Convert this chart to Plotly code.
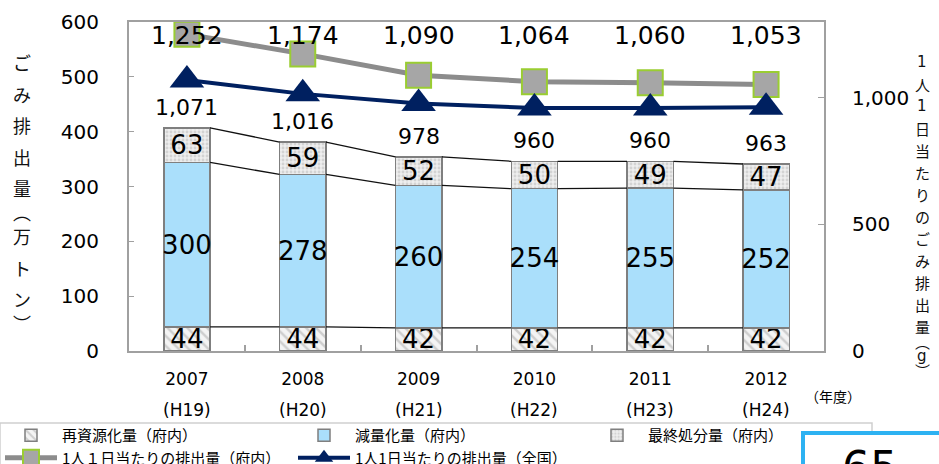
import plotly.graph_objects as go

# ---------------- data ----------------
years = ["2007", "2008", "2009", "2010", "2011", "2012"]
eras = ["(H19)", "(H20)", "(H21)", "(H22)", "(H23)", "(H24)"]
recycled = [44, 44, 42, 42, 42, 42]          # 再資源化量（府内）
reduced = [300, 278, 260, 254, 255, 252]     # 減量化量（府内）
disposed = [63, 59, 52, 50, 49, 47]          # 最終処分量（府内）
per_capita_osaka = [1252, 1174, 1090, 1064, 1060, 1053]   # 1人１日当たりの排出量（府内）
per_capita_japan = [1071, 1016, 978, 960, 960, 963]       # 1人1日当たりの排出量（全国）

name_recycled = "再資源化量（府内）"
name_reduced = "減量化量（府内）"
name_disposed = "最終処分量（府内）"
name_osaka = "1人１日当たりの排出量（府内）"
name_japan = "1人1日当たりの排出量（全国）"
left_title = "ごみ排出量︵万トン︶"
right_title = "1人1日当たりのごみ排出量︵g︶"
year_unit = "（年度）"
page_no = "65"

# ---------------- layout constants ----------------
W, H = 939, 464
ML, MR, MT, MB = 129, 115, 22, 113
PW, PH = W - ML - MR, H - MT - MB
NUM = "DejaVu Sans"
JP = "Noto Sans CJK JP"
BAR_W = 0.4
AX = "#A0A0A0"


def px_x(p):
    return (p - ML) / PW


def px_y(p):
    return (H - MB - p) / PH


xs = list(range(len(years)))
level1 = recycled
level2 = [a + b for a, b in zip(recycled, reduced)]
totals = [a + b + c for a, b, c in zip(recycled, reduced, disposed)]

fig = go.Figure()

bar_common = dict(x=xs, width=BAR_W, textposition="inside", insidetextanchor="middle",
                  textangle=0, constraintext="none", cliponaxis=False,
                  textfont=dict(family=NUM, size=26, color="#000"),
                  texttemplate="%{y}", hoverinfo="skip")

fig.add_trace(go.Bar(y=recycled, name=name_recycled, legend="legend",
                     marker=dict(color="white", line=dict(color="#7F7F7F", width=1.5),
                                 pattern=dict(shape="\\", fgcolor="#A8A8A8", bgcolor="#F4F4F4",
                                              size=7, solidity=0.35)),
                     **bar_common))
fig.add_trace(go.Bar(y=reduced, name=name_reduced, legend="legend2",
                     marker=dict(color="#AADFFB", line=dict(color="#7F7F7F", width=1.5)),
                     **bar_common))
fig.add_trace(go.Bar(y=disposed, name=name_disposed, legend="legend3",
                     marker=dict(color="#E6E6E6", line=dict(color="#7F7F7F", width=1.5),
                                 pattern=dict(shape=".", fgcolor="#B8B8B8", bgcolor="#EEEEEE",
                                              size=4, solidity=0.4)),
                     **bar_common))

# series connector lines between stacked segments
for lv in (level1, level2, totals):
    cx, cy = [], []
    for i in range(len(xs) - 1):
        cx += [xs[i] + BAR_W / 2, xs[i + 1] - BAR_W / 2, None]
        cy += [lv[i], lv[i + 1], None]
    fig.add_trace(go.Scatter(x=cx, y=cy, mode="lines", line=dict(color="#111", width=1.3),
                             showlegend=False, hoverinfo="skip"))

fig.add_trace(go.Scatter(x=xs, y=per_capita_osaka, yaxis="y2", name=name_osaka, legend="legend",
                         mode="lines+markers", line=dict(color="#8C8C8C", width=5),
                         marker=dict(symbol="square", size=25, color="#A6A6A6",
                                     line=dict(color="#9ACD32", width=2)),
                         hoverinfo="skip", cliponaxis=False))
fig.add_trace(go.Scatter(x=xs, y=per_capita_japan, yaxis="y2", name=name_japan, legend="legend2",
                         mode="lines+markers", line=dict(color="#002060", width=4),
                         marker=dict(symbol="triangle-up", size=30, color="#002060"),
                         hoverinfo="skip", cliponaxis=False))

ann = []
for i, v in enumerate(per_capita_osaka):
    ann.append(dict(x=xs[i], y=1, xref="x", yref="paper", xanchor="center", yanchor="middle",
                    yshift=-13, text=f"{v:,}", showarrow=False,
                    font=dict(family=NUM, size=25, color="#000")))
for i, v in enumerate(per_capita_japan):
    ann.append(dict(x=xs[i], y=totals[i], xref="x", yref="y", xanchor="center", yanchor="bottom",
                    yshift=6, text=f"{v:,}", showarrow=False,
                    font=dict(family=NUM, size=22, color="#000")))
for i, e in enumerate(eras):
    ann.append(dict(x=xs[i], y=0, xref="x", yref="paper", xanchor="center", yanchor="middle",
                    yshift=-59, text=e, showarrow=False,
                    font=dict(family=NUM, size=17, color="#000")))
ann.append(dict(x=px_x(833), y=px_y(396), xref="paper", yref="paper", xanchor="center",
                yanchor="middle", text=year_unit, showarrow=False,
                font=dict(family=JP, size=14, color="#000")))


def vertical(text, x_px, y0, step_full, step_small, size):
    y = y0
    prev = None
    for ch in text:
        if prev is not None:
            y += step_small if (ch in "︵︶g" or prev in "︵︶g") else step_full
        fam = NUM if ch.isascii() else JP
        ann.append(dict(x=px_x(x_px), y=px_y(y), xref="paper", yref="paper",
                        xanchor="center", yanchor="middle", text=ch, showarrow=False,
                        font=dict(family=fam, size=size, color="#111")))
        prev = ch


vertical(left_title, 22, 62, 31.5, 24, 18)
vertical(right_title, 922, 62, 22, 15, 15)

# page-number box
ann.append(dict(x=px_x(870), y=px_y(440), xref="paper", yref="paper", xanchor="center",
                yanchor="top", text=page_no, showarrow=False,
                font=dict(family=NUM, size=44, color="#000")))

shapes = [
    dict(type="rect", xref="paper", yref="paper", x0=px_x(0), x1=px_x(872),
         y0=px_y(423), y1=px_y(500), line=dict(color="#CFCFCF", width=1.5), layer="below"),
    dict(type="rect", xref="paper", yref="paper", x0=px_x(803), x1=px_x(945),
         y0=px_y(433), y1=px_y(520), line=dict(color="#2DB2F2", width=4),
         fillcolor="white"),
]

leg_common = dict(orientation="h", xanchor="left", yanchor="top", traceorder="normal",
                  xref="container", yref="container", entrywidth=480, entrywidthmode="pixels",
                  bgcolor="rgba(0,0,0,0)", borderwidth=0, itemwidth=52,
                  font=dict(family=JP, size=15, color="#000"), tracegroupgap=0)

fig.update_layout(
    width=W, height=H, margin=dict(l=ML, r=MR, t=MT, b=MB, autoexpand=False),
    paper_bgcolor="white", plot_bgcolor="white",
    barmode="stack", showlegend=True,
    xaxis=dict(range=[-0.5, len(years) - 0.5], tickvals=xs, ticktext=years,
               ticks="", showline=True, linecolor=AX, linewidth=2, mirror=True,
               showgrid=False, zeroline=False, ticklabelstandoff=12,
               tickfont=dict(family=NUM, size=17, color="#000"),
               minor=dict(tickvals=[i + 0.5 for i in xs[:-1]], ticks="inside",
                          ticklen=6, tickcolor=AX, tickwidth=1.5)),
    yaxis=dict(range=[0, 600], dtick=100, showline=True, linecolor=AX, linewidth=2,
               ticks="inside", ticklen=5, tickcolor=AX, showgrid=False, zeroline=False,
               ticklabelstandoff=24, tickfont=dict(family=NUM, size=20, color="#000")),
    yaxis2=dict(range=[0, 1300], tickvals=[0, 500, 1000], tickformat=",", overlaying="y",
                side="right", showline=True, linecolor=AX, linewidth=2, ticks="inside",
                ticklen=6, tickcolor=AX, showgrid=False, zeroline=False,
                ticklabelstandoff=22, tickfont=dict(family=NUM, size=20, color="#000")),
    legend=dict(x=0 / W, y=1 - 419 / H, **leg_common),
    legend2=dict(x=293 / W, y=1 - 419 / H, **leg_common),
    legend3=dict(x=586 / W, y=1 - 419 / H, **leg_common),
    annotations=ann, shapes=shapes,
)

fig.write_html("out.html", config={"displayModeBar": False},
               post_script="document.body.style.margin='0';")
